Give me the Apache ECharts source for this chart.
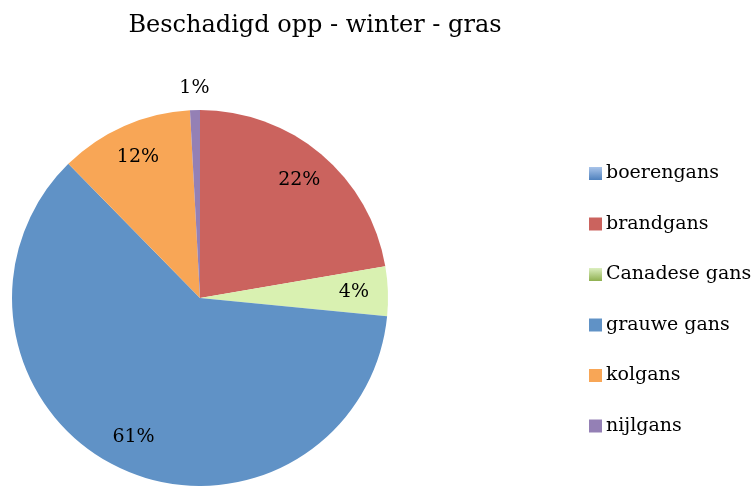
<!DOCTYPE html>
<html><head><meta charset="utf-8">
<script src="https://cdn.jsdelivr.net/npm/echarts@6/dist/echarts.min.js"></script>
<style>html,body{margin:0;padding:0;background:#fff}#c{width:756px;height:486px}</style>
</head><body><div id="c"></div>
<script>
const categories = ['boerengans', 'brandgans', 'Canadese gans', 'grauwe gans', 'kolgans', 'nijlgans'];
const values = [0, 22.3, 4.25, 61.1, 11.5, 0.85];
const colors = ['#7fa7d6', '#cb635e', '#d9f1b1', '#6092c6', '#f8a656', '#9480b5'];
const titleText = 'Beschadigd opp - winter - gras';

const FONT = 'DejaVu Serif';
const grad = (a, b) => new echarts.graphic.LinearGradient(0, 0, 0, 1, [{offset: 0, color: a}, {offset: 1, color: b}]);
const legendColors = {
  'boerengans': grad('#a9c4ea', '#4f81bd'),
  'Canadese gans': grad('#dcefc0', '#8fb050')
};

const chart = echarts.init(document.getElementById('c'), null, {renderer: 'canvas'});
const total = values.reduce((a, b) => a + b, 0);
const pct = v => Math.round(v / total * 100) + '%';
const baseData = categories.map((n, i) => ({name: n, value: values[i], itemStyle: {color: colors[i]}}));

chart.setOption({
  animation: false,
  title: {text: titleText, left: 310, textAlign: 'center', top: 9,
    textStyle: {fontFamily: FONT, fontSize: 24, fontWeight: 'normal', color: '#000'}},
  legend: {
    orient: 'vertical', left: 584, top: 159, itemWidth: 13, itemHeight: 13, itemGap: 31.5,
    icon: 'rect',
    data: categories.map((n, i) => ({name: n, itemStyle: {color: legendColors[n] || colors[i]}})),
    textStyle: {fontFamily: FONT, fontSize: 19, color: '#000', padding: [0, 0, 0, -1]}
  },
  series: [
    {
      type: 'pie', name: 'main', center: [200, 298], radius: [0, 188], startAngle: 90, clockwise: true,
      label: {show: false}, labelLine: {show: false}, silent: true,
      itemStyle: {borderWidth: 0},
      data: baseData
    },
    {
      type: 'pie', name: 'labelsInner', center: [200, 298], radius: [110, 192], startAngle: 90, clockwise: true,
      silent: true, itemStyle: {color: 'transparent', borderWidth: 0}, labelLine: {show: false},
      label: {show: true, position: 'inside', fontFamily: FONT, fontSize: 19, color: '#000',
        formatter: p => (p.value / total >= 0.02 ? pct(p.value) : '')},
      data: categories.map((n, i) => ({name: n, value: values[i]}))
    },
    {
      type: 'pie', name: 'labelsOuter', center: [200, 298], radius: [188, 226], startAngle: 90, clockwise: true,
      silent: true, itemStyle: {color: 'transparent', borderWidth: 0}, labelLine: {show: false},
      label: {show: true, position: 'inside', fontFamily: FONT, fontSize: 19, color: '#000',
        formatter: p => (p.value > 0 && p.value / total < 0.02 ? pct(p.value) : '')},
      data: categories.map((n, i) => ({name: n, value: values[i]}))
    }
  ]
});
</script></body></html>
